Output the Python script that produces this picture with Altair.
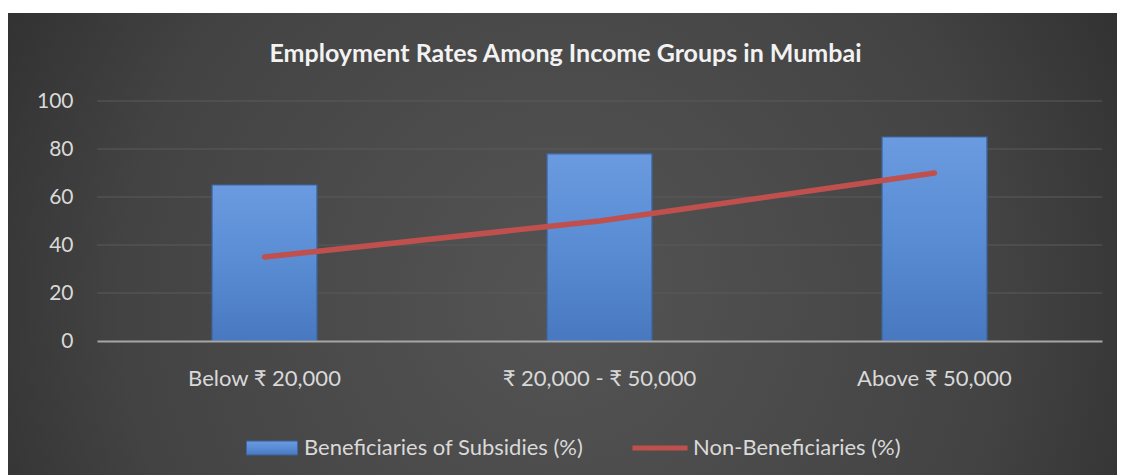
import altair as alt
import pandas as pd

# ---- data ----
categories = ["Below ₹ 20,000", "₹ 20,000 - ₹ 50,000", "Above ₹ 50,000"]
beneficiaries = [65, 78, 85]
non_beneficiaries = [35, 50, 70]
y_ticks = [0, 20, 40, 60, 80, 100]
grid_values = [20, 40, 60, 80, 100]
series_names = ["Beneficiaries of Subsidies (%)", "Non-Beneficiaries (%)"]
title_text = "Employment Rates Among Income Groups in Mumbai"

df = pd.DataFrame({"group": categories, "ben": beneficiaries, "non": non_beneficiaries})
grid_df = pd.DataFrame({"v": grid_values})

W, H = 1005, 240
FONT = "Lato"
LABEL = "#d9d9d9"

bg_gradient = {
    "gradient": "radial",
    "x1": 0.5, "y1": 0.55, "r1": 0,
    "x2": 0.5, "y2": 0.55, "r2": 0.72,
    "stops": [
        {"offset": 0, "color": "#545454"},
        {"offset": 0.55, "color": "#434343"},
        {"offset": 1, "color": "#222222"},
    ],
}
bar_gradient = {
    "gradient": "linear",
    "x1": 0, "y1": 0, "x2": 0, "y2": 1,
    "stops": [
        {"offset": 0, "color": "#6a9be0"},
        {"offset": 0.5, "color": "#5a8cd4"},
        {"offset": 1, "color": "#4778c0"},
    ],
}

x_enc = alt.X(
    "group:N",
    sort=categories,
    scale=alt.Scale(paddingInner=0.687, paddingOuter=0.3435),
    axis=alt.Axis(
        title=None, labelAngle=0, labelFont=FONT, labelFontSize=22, labelColor=LABEL,
        labelPadding=27, labelLimit=500, ticks=False, domainColor="#a6a6a6",
        domainWidth=2, zindex=1,
    ),
)
y_scale = alt.Scale(domain=[0, 100])

background = alt.Chart(alt.Data(values=[{"a": 1}])).mark_rect(
    fill=bg_gradient
).encode(
    x=alt.value(-89), x2=alt.value(W + 15), y=alt.value(-88), y2=alt.value(H + 134)
)

grid = alt.Chart(grid_df).mark_rule(color="#5b5b5b", strokeWidth=1).encode(
    y=alt.Y(
        "v:Q", scale=y_scale,
        axis=alt.Axis(
            title=None, values=y_ticks, labelFont=FONT, labelFontSize=21, labelColor=LABEL,
            labelPadding=24, ticks=False, domain=False, grid=False, zindex=1,
        ),
    )
)

bars = alt.Chart(df).transform_calculate(
    s1=f"'{series_names[0]}'"
).mark_bar(fill=bar_gradient, strokeWidth=1.2).encode(
    x=x_enc,
    y=alt.Y("ben:Q", scale=y_scale),
    stroke=alt.Stroke(
        "s1:N",
        scale=alt.Scale(range=["#3b68a8"]),
        legend=alt.Legend(
            title=None, orient="none", legendX=149, legendY=321, padding=0,
            symbolType="M-1,-0.27H1V0.27H-1Z", symbolSize=2601,
            symbolFillColor="#5b8fd4", symbolStrokeWidth=1, symbolOpacity=1,
            labelFont=FONT, labelFontSize=22, labelColor=LABEL, labelOffset=6,
            labelLimit=500,
        ),
    ),
)

line = alt.Chart(df).transform_calculate(
    s2=f"'{series_names[1]}'"
).mark_line(strokeWidth=5.5, strokeCap="round").encode(
    x=alt.X("group:N", sort=categories),
    y=alt.Y("non:Q", scale=y_scale),
    color=alt.Color(
        "s2:N",
        scale=alt.Scale(range=["#c0504d"]),
        legend=alt.Legend(
            title=None, orient="none", legendX=533, legendY=317, padding=0,
            symbolType="stroke", symbolSize=3025, symbolStrokeWidth=5,
            labelFont=FONT, labelFontSize=22, labelColor=LABEL, labelOffset=3,
            labelLimit=500,
        ),
    ),
)

chart = alt.layer(background, grid, bars, line).properties(
    width=W,
    height=H,
    autosize=alt.AutoSizeParams(type="none"),
    padding={"left": 89, "top": 93, "right": 15, "bottom": 134},
    background="white",
    title=alt.TitleParams(
        title_text, font=FONT, fontSize=25, fontWeight="bold", color="#f2f2f2",
        anchor="middle", dx=-34, offset=-74, baseline="alphabetic", zindex=1,
    ),
).configure_view(stroke=None).configure_legend(zindex=1)

chart.save("out.html", embed_options={"renderer": "svg", "actions": False})
